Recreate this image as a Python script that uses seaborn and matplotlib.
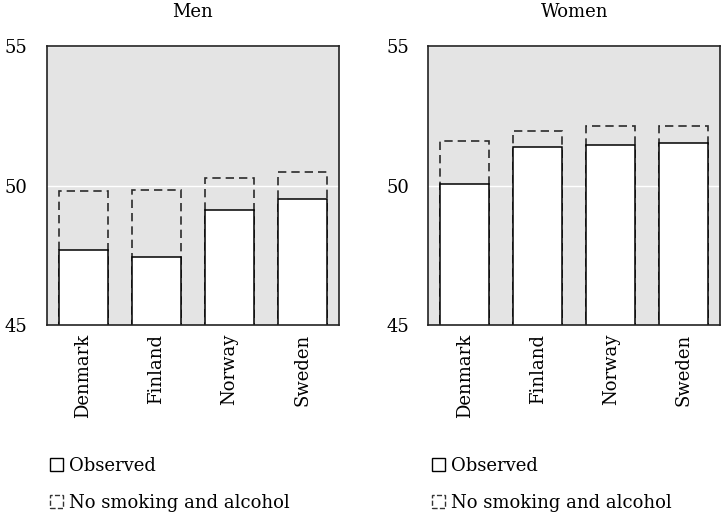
import pandas as pd
import matplotlib.pyplot as plt
import seaborn as sns
from matplotlib.patches import Patch

# Data
countries = ["Denmark", "Finland", "Norway", "Sweden"]
men_observed = [47.69, 47.43, 49.12, 49.52]
men_no_smoking_alcohol = [49.81, 49.84, 50.26, 50.47]
women_observed = [50.04, 51.39, 51.45, 51.52]
women_no_smoking_alcohol = [51.60, 51.95, 52.13, 52.14]
y_ticks = [45, 50, 55]

sns.set_theme(style="darkgrid")
plt.rcParams["font.family"] = ["DejaVu Serif"]
plt.rcParams["text.color"] = "black"
plt.rcParams["xtick.color"] = "black"
plt.rcParams["ytick.color"] = "black"

fig, axes = plt.subplots(1, 2, figsize=(7.23, 5.17), dpi=100)
fig.subplots_adjust(left=0.065, right=0.996, top=0.911, bottom=0.371, wspace=0.308)

panels = [
    ("Men", men_observed, men_no_smoking_alcohol),
    ("Women", women_observed, women_no_smoking_alcohol),
]

for ax, (title, observed, counterfactual) in zip(axes, panels):
    df = pd.DataFrame({"country": countries, "observed": observed,
                       "counterfactual": counterfactual})
    # dashed bar first, then the observed bar drawn over it
    sns.barplot(data=df, x="country", y="counterfactual", ax=ax, fill=False,
                edgecolor="#2a2a2a", linestyle=(0, (5, 3)), linewidth=1.2,
                width=0.67, errorbar=None)
    sns.barplot(data=df, x="country", y="observed", ax=ax, color="white",
                edgecolor="black", linewidth=1.1, width=0.67, errorbar=None,
                saturation=1)
    ax.set_ylim(45, 55)
    ax.set_yticks(y_ticks)
    ax.set_facecolor("#e4e4e4")
    ax.grid(axis="x", visible=False)
    ax.grid(axis="y", color="white", linewidth=1)
    ax.set_xlabel("")
    ax.set_ylabel("")
    ax.set_title(title, fontsize=13, pad=21)
    ax.tick_params(axis="x", labelrotation=90, labelsize=13, length=0, pad=6)
    ax.tick_params(axis="y", labelsize=13, length=0, pad=14)
    for spine in ax.spines.values():
        spine.set_visible(True)
        spine.set_color("#222222")
        spine.set_linewidth(1.2)

    handles = [
        Patch(facecolor="white", edgecolor="black", linewidth=1),
        Patch(facecolor="white", edgecolor="#333333", linewidth=1, linestyle="--"),
    ]
    ax.legend(handles, ["Observed", "No smoking and alcohol"],
              loc="upper left", bbox_to_anchor=(-0.013, -0.445),
              frameon=False, fontsize=13, handlelength=0.7, handleheight=0.7,
              handletextpad=0.35, labelspacing=1.05, borderaxespad=0)

fig.savefig("out.png", dpi=100)
